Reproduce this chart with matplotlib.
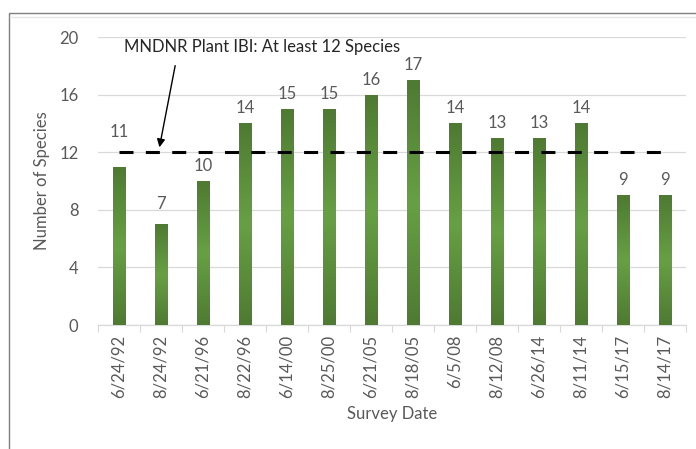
import matplotlib
matplotlib.use("Agg")
import matplotlib.pyplot as plt
import numpy as np
from matplotlib.colors import LinearSegmentedColormap
from matplotlib.patches import Rectangle
from matplotlib.lines import Line2D

survey_dates = ["6/24/92", "8/24/92", "6/21/96", "8/22/96", "6/14/00", "8/25/00",
                "6/21/05", "8/18/05", "6/5/08", "8/12/08", "6/26/14", "8/11/14",
                "6/15/17", "8/14/17"]
species_counts = [11, 7, 10, 14, 15, 15, 16, 17, 14, 13, 13, 14, 9, 9]
ibi_target = 12
y_ticks = [0, 4, 8, 12, 16, 20]
annotation_text = "MNDNR Plant IBI: At least 12 Species"

# label vertical offsets (points) - style only
label_offsets = [19, 9, 5, 5, 5, 5, 5, 5, 5, 5, 5, 5, 5, 5]

plt.rcParams['font.family'] = ['Lato', 'DejaVu Sans']
txt_color = "#595959"

fig = plt.figure(figsize=(6.96, 4.49), dpi=100)
ax = fig.add_axes([98/696, 1-325/449, 588/696, 288/449])

x = np.arange(len(survey_dates))
bars = ax.bar(x, species_counts, width=0.30, color="#5a8f3a",
              edgecolor="#86b866", linewidth=0.6, zorder=3)

cmap = LinearSegmentedColormap.from_list("g", ["#4e7a31", "#67a044", "#4e7a31"])
grad = np.linspace(0, 1, 256).reshape(-1, 1)
for b in bars:
    xx, yy = b.get_x(), b.get_y()
    w, h = b.get_width(), b.get_height()
    im = ax.imshow(grad, cmap=cmap, aspect="auto", extent=[xx, xx + w, yy, yy + h],
                   origin="lower", zorder=3.5, interpolation="bilinear")
    im.set_clip_path(b)

for xi, v, off in zip(x, species_counts, label_offsets):
    ax.annotate(str(v), (xi, v), xytext=(0, off), textcoords="offset points",
                ha="center", va="bottom", fontsize=12, color=txt_color, zorder=5)

ax.plot([x[0], x[-1]], [ibi_target, ibi_target], color="black", lw=2.2,
        dashes=(4.58, 4.05), solid_capstyle="butt", dash_capstyle="butt", zorder=4)

ax.set_xlim(-0.5, len(survey_dates) - 0.5)
ax.set_ylim(0, 20)
ax.set_yticks(y_ticks)
ax.set_xticks(x)
ax.set_xticklabels(survey_dates, rotation=90, fontsize=12, color=txt_color)
ax.tick_params(axis="x", which="major", length=0, pad=7)
ax.set_xticks(np.arange(-0.5, len(survey_dates)), minor=True)
ax.tick_params(axis="x", which="minor", length=5, color="#d9d9d9", width=0.8)
ax.tick_params(axis="y", length=0, pad=14, labelsize=12, labelcolor=txt_color)
ax.grid(axis="y", color="#d9d9d9", lw=0.9, zorder=0)
ax.set_axisbelow(True)
for s in ["top", "right", "left"]:
    ax.spines[s].set_visible(False)
ax.spines["bottom"].set_color("#d9d9d9")
ax.spines["bottom"].set_linewidth(0.9)

ax.set_ylabel("Number of Species", fontsize=12, color=txt_color, labelpad=7)
ax.set_xlabel("Survey Date", fontsize=12, color=txt_color, labelpad=6)

ax.annotate("", xy=(0.95, ibi_target + 0.15), xytext=(1.35, 18.2),
            arrowprops=dict(arrowstyle="-|>", color="black", lw=1.0, mutation_scale=12),
            zorder=6)
fig.text(124/696, 1-47/449, annotation_text, fontsize=12, color="#262626",
         ha="left", va="center")

fig.add_artist(Rectangle((9/696, -0.05), 1.0, 1-13/449+0.05, transform=fig.transFigure,
                         fill=False, edgecolor="#7f7f7f", lw=1.0))
fig.add_artist(Line2D([10/696, 1], [1-17/449, 1-17/449], transform=fig.transFigure,
                      color="#e6e6e6", lw=1.0))

fig.savefig("out.png", dpi=100)
